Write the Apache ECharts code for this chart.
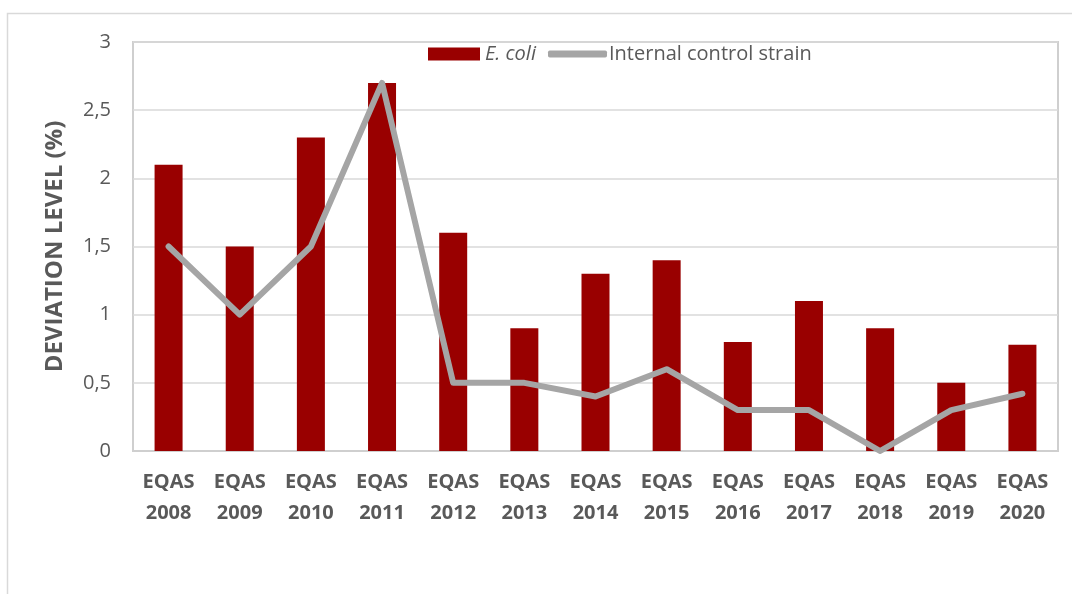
<!DOCTYPE html>
<html><head><meta charset="utf-8">
<script src="https://cdn.jsdelivr.net/npm/echarts@6/dist/echarts.min.js"></script>
<style>html,body{margin:0;padding:0;background:#fff}#c{width:1072px;height:594px}</style>
</head><body><div id="c"></div>
<script>
const categories = ['EQAS\n2008','EQAS\n2009','EQAS\n2010','EQAS\n2011','EQAS\n2012','EQAS\n2013','EQAS\n2014','EQAS\n2015','EQAS\n2016','EQAS\n2017','EQAS\n2018','EQAS\n2019','EQAS\n2020'];
const ecoli = [2.1, 1.5, 2.3, 2.7, 1.6, 0.9, 1.3, 1.4, 0.8, 1.1, 0.9, 0.5, 0.78];
const internalControl = [1.5, 1.0, 1.5, 2.7, 0.5, 0.5, 0.4, 0.6, 0.3, 0.3, 0.0, 0.3, 0.42];
const seriesNames = ['E. coli', 'Internal control strain'];
const yAxisTitle = 'DEVIATION LEVEL (%)';

const FONT = '"Open Sans", "Noto Sans", sans-serif';
const TXT = '#595959';
const chart = echarts.init(document.getElementById('c'), null, {renderer: 'canvas'});
chart.setOption({
  animation: false,
  textStyle: {fontFamily: FONT},
  graphic: [{
    type: 'rect', shape: {x: 7.5, y: 13.5, width: 1070, height: 600},
    style: {fill: 'none', stroke: '#d9d9d9', lineWidth: 1.5}, silent: true, z: -1
  }],
  grid: {left: 133, right: 14, top: 42, bottom: 143, show: true, borderColor: '#cfcfcf', borderWidth: 2},
  legend: [{
    top: 44, left: 428, itemWidth: 52, itemHeight: 13, padding: 0,
    textStyle: {color: TXT, fontSize: 20, fontFamily: FONT,
      rich: {i: {fontStyle: 'italic', color: TXT, fontSize: 20, fontFamily: FONT}}},
    formatter: n => '{i|' + n + '}',
    data: [{name: seriesNames[0], icon: 'rect'}]
  }, {
    top: 44, left: 548, itemWidth: 59, itemHeight: 7, padding: 0,
    textStyle: {color: TXT, fontSize: 20, fontFamily: FONT, padding: [0, 0, 0, -3]},
    data: [{name: seriesNames[1], icon: 'roundRect', itemStyle: {color: '#a5a5a5'}}]
  }],
  xAxis: {
    type: 'category', data: categories,
    axisLine: {show: true, lineStyle: {color: '#cfcfcf', width: 2}},
    axisTick: {show: false},
    axisLabel: {color: TXT, fontSize: 20, fontWeight: 'bold', fontFamily: FONT, lineHeight: 31, margin: 16, interval: 0}
  },
  yAxis: {
    type: 'value', min: 0, max: 3, interval: 0.5,
    name: yAxisTitle, nameLocation: 'middle', nameGap: 66, nameMoveOverlap: false,
    nameTextStyle: {color: TXT, fontSize: 24, fontWeight: 'bold', fontFamily: FONT},
    axisLine: {show: false}, axisTick: {show: false},
    axisLabel: {color: TXT, fontSize: 20, fontFamily: FONT, margin: 22,
      formatter: v => String(v).replace('.', ',')},
    splitLine: {lineStyle: {color: '#d9d9d9', width: 1.5}}
  },
  series: [
    {name: seriesNames[0], type: 'bar', data: ecoli, barWidth: 28,
      itemStyle: {color: '#990000'}},
    {name: seriesNames[1], type: 'line', data: internalControl, symbol: 'none',
      lineStyle: {color: '#a5a5a5', width: 6, cap: 'round', join: 'round'},
      itemStyle: {color: '#a5a5a5'}, z: 3}
  ]
});
</script></body></html>
